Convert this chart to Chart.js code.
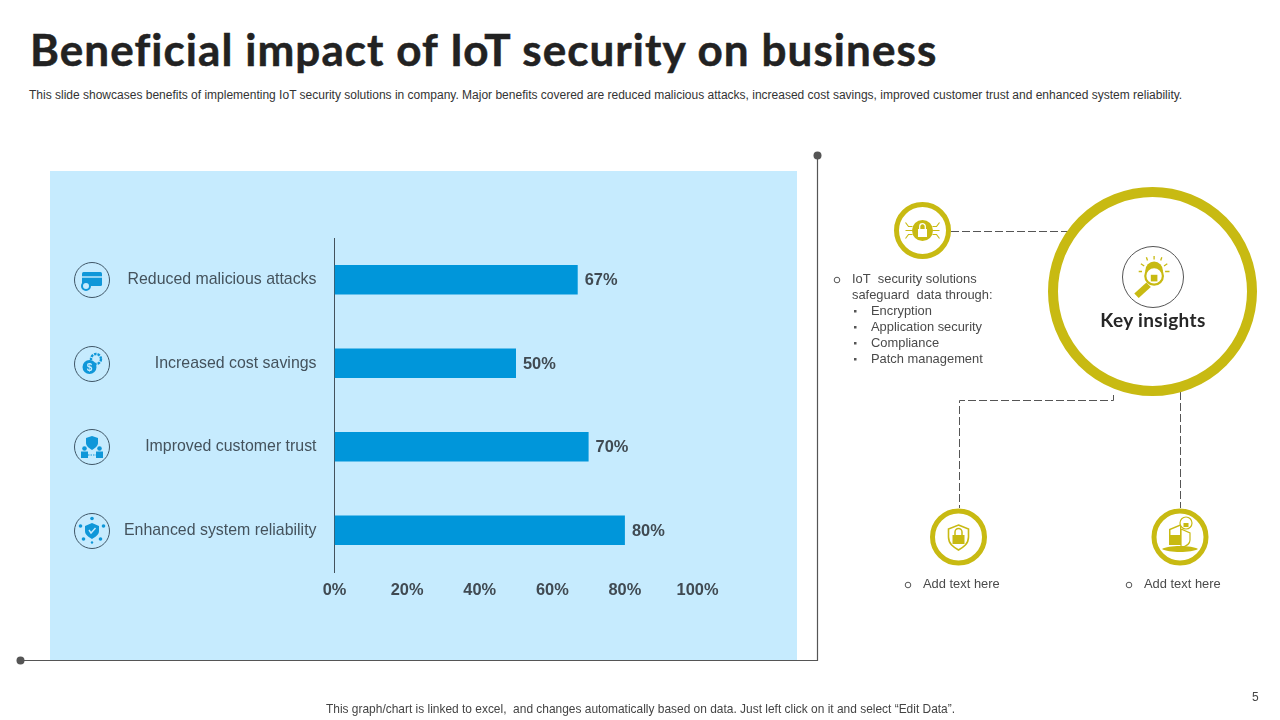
<!DOCTYPE html>
<html>
<head>
<meta charset="utf-8">
<title>Beneficial impact of IoT security on business</title>
<script src="https://cdn.jsdelivr.net/npm/chart.js@4/dist/chart.umd.js"></script>
<style>
html, body { margin: 0; padding: 0; background: #fff; }
#page { position: relative; width: 1280px; height: 720px; overflow: hidden; font-family: "Liberation Sans", Arial, sans-serif; color: #404040; }
#page div.t { position: absolute; white-space: nowrap; line-height: 16px; font-size: 12.9px; color: #4a4a4a; }
#title { position: absolute; left: 30px; top: 21px; font: 700 44px/56px "Lato", sans-serif; letter-spacing: 1.07px; -webkit-text-stroke: 0.5px #222; color: #222; white-space: nowrap; }
#sub { position: absolute; left: 29px; top: 88px; font-size: 12px; line-height: 14px; color: #333; white-space: nowrap; }
#foot { position: absolute; left: 326px; top: 702px; font-size: 11.95px; line-height: 14px; color: #444; white-space: nowrap; }
#num { position: absolute; left: 1252px; top: 690px; font-size: 12px; line-height: 14px; color: #444; }
#key { position: absolute; left: 1053px; width: 200px; top: 308px; text-align: center; font: 700 19px/24px "Lato", sans-serif; letter-spacing: 0.35px; color: #262626; }
#panel { position: absolute; left: 50px; top: 171px; width: 747px; height: 489px; background: #c6ebfe; }
#chart { position: absolute; left: 50px; top: 171px; }
svg { position: absolute; left: 0; top: 0; }
</style>
</head>
<body>
<div id="page">
  <div id="title">Beneficial impact of IoT security on business</div>
  <div id="sub">This slide showcases benefits of implementing IoT security solutions in company. Major benefits covered are reduced malicious attacks, increased cost savings, improved customer trust and enhanced system reliability.</div>
  <div id="panel"></div>
  <canvas id="chart" width="747" height="489"></canvas>

  <svg width="1280" height="720" xmlns="http://www.w3.org/2000/svg">
    <!-- frame -->
    <path d="M20.5 660.5H817.5V155.5" fill="none" stroke="#555" stroke-width="1.2"/>
    <circle cx="20.5" cy="660.5" r="4" fill="#555"/>
    <circle cx="817.5" cy="155.5" r="4" fill="#555"/>

    <!-- dashed links -->
    <g fill="none" stroke="#555" stroke-width="1" stroke-dasharray="8 3">
      <path d="M951 231.5H1068"/>
      <path d="M1113.5 395V400.5H959.5V508"/>
      <path d="M1180.5 392V508"/>
    </g>

    <!-- yellow rings -->
    <g fill="#fff" stroke="#c8ba12">
      <circle cx="1152.5" cy="291.5" r="99.5" stroke-width="10"/>
      <circle cx="922.5" cy="230.5" r="26" stroke-width="5"/>
      <circle cx="958.5" cy="537" r="26" stroke-width="5"/>
      <circle cx="1180" cy="537" r="26" stroke-width="5"/>
    </g>
    <circle cx="1153" cy="277" r="30.5" fill="#fff" stroke="#555" stroke-width="1"/>

    <!-- bulb and magnifier -->
    <g transform="translate(1153,277) scale(1.1)" fill="#c8ba12" stroke="none">
      <circle cx="1" cy="-6" r="8"/>
      <circle cx="1" cy="-1" r="8" fill="#fff" stroke="#c8ba12" stroke-width="2"/>
      <rect x="-2" y="-2" width="6" height="6" fill="#c8ba12"/>
      <path d="M-6 5L-17 15L-13 19L-2 9Z"/>
      <path d="M-11 -12L-8 -10M-13 -5H-10M13 -12L10 -10M15 -5H11M1 -19V-16M-6 -18L-5 -15M8 -18L7 -15" stroke="#c8ba12" stroke-width="1.2" fill="none"/>
    </g>

    <!-- chip lock -->
    <g transform="translate(922.5,230.5)" fill="#c8ba12">
      <circle r="10.5"/>
      <rect x="-4.5" y="-1.5" width="9" height="8" fill="#fff"/>
      <path d="M-2.8 -1.5V-4a2.8 2.8 0 0 1 5.6 0V-1.5" fill="none" stroke="#fff" stroke-width="1.3"/>
      <path d="M-10 -4H-14L-17 -8M-10 0H-17M-10 4H-14L-17 8M10 -4H14L17 -8M10 0H17M10 4H14L17 8" fill="none" stroke="#c8ba12" stroke-width="1.1"/>
    </g>

    <!-- shield lock -->
    <g transform="translate(958.5,537)">
      <path d="M0 -12L10 -8V0C10 7 5 10 0 13C-5 10 -10 7 -10 0V-8Z" fill="#fff" stroke="#c8ba12" stroke-width="1.6"/>
      <rect x="-6" y="-2" width="12" height="9" fill="#c8ba12"/>
      <path d="M-3.5 -2V-5a3.5 3.5 0 0 1 7 0V-2" fill="none" stroke="#c8ba12" stroke-width="1.5"/>
    </g>

    <!-- shield with padlock -->
    <g transform="translate(1180,537)">
      <path d="M-11 -8L1 -13V8H-11Z" fill="#c8ba12"/>
      <path d="M-9.5 -7L0 -11V-2H-9.5Z" fill="#fff"/>
      <path d="M1 -8L10 -4V3C10 8 5 9 1 11Z" fill="#fff" stroke="#c8ba12" stroke-width="1.2"/>
      <path d="M-18 12C-12 8 12 8 18 12C12 16 -12 16 -18 12Z" fill="#c8ba12"/>
      <circle cx="6" cy="-14" r="6" fill="#fff" stroke="#c8ba12" stroke-width="1.2"/>
      <rect x="3.5" y="-14" width="5" height="4" fill="#c8ba12"/>
    </g>

    <!-- left icon badges -->
    <g fill="none" stroke="#3f5666" stroke-width="1">
      <circle cx="92" cy="280" r="17.5"/>
      <circle cx="92" cy="364" r="17.5"/>
      <circle cx="92" cy="447" r="17.5"/>
      <circle cx="92" cy="531" r="17.5"/>
    </g>
    <g transform="translate(92,280)" fill="#0f97d9">
      <rect x="-10" y="-8" width="20" height="14" rx="1.5"/>
      <path d="M-10 -3H10" stroke="#c6ebfe" stroke-width="1.4"/>
      <circle cx="-6" cy="6" r="4" fill="#c6ebfe" stroke="#0f97d9" stroke-width="2"/>
    </g>
    <g transform="translate(92,364)" fill="#0f97d9">
      <circle cx="-2.5" cy="3" r="7"/>
      <circle cx="4" cy="-5" r="5" fill="none" stroke="#0f97d9" stroke-width="2.4" stroke-dasharray="2.5 1"/>
      <text x="-2.5" y="7" font-size="10" font-weight="700" text-anchor="middle" fill="#c6ebfe">$</text>
    </g>
    <g transform="translate(92,447)" fill="#0f97d9">
      <path d="M0 -11L6 -9V-4C6 -1 3 1 0 3C-3 1 -6 -1 -6 -4V-9Z"/>
      <circle cx="-7.5" cy="1.5" r="2.3"/><circle cx="7.5" cy="1.5" r="2.3"/>
      <rect x="-11" y="4.5" width="7" height="6.5"/><rect x="4" y="4.5" width="7" height="6.5"/>
      <path d="M-4 8H4" stroke="#0f97d9" stroke-width="1" stroke-dasharray="1.5 1"/>
    </g>
    <g transform="translate(92,531)" fill="#0f97d9">
      <path d="M0 -8L7 -5V0C7 4 3 6 0 8C-3 6 -7 4 -7 0V-5Z"/>
      <path d="M-3 -1L-1 2L3.5 -3" fill="none" stroke="#c6ebfe" stroke-width="1.4"/>
      <circle cx="0" cy="-12.5" r="1.8"/><circle cx="-11.5" cy="-5" r="1.8"/><circle cx="11.5" cy="-5" r="1.8"/>
      <circle cx="-8.5" cy="8" r="1.8"/><circle cx="8.5" cy="8" r="1.8"/><circle cx="0" cy="11.5" r="1.2"/>
    </g>

    <!-- list bullets -->
    <g fill="none" stroke="#555" stroke-width="1">
      <circle cx="837" cy="280" r="2.8"/>
      <circle cx="908" cy="585" r="2.8"/>
      <circle cx="1129" cy="585" r="2.8"/>
    </g>
    <g fill="#555">
      <rect x="854" y="310" width="2.5" height="2.5"/>
      <rect x="854" y="326" width="2.5" height="2.5"/>
      <rect x="854" y="342" width="2.5" height="2.5"/>
      <rect x="854" y="358" width="2.5" height="2.5"/>
    </g>
  </svg>

  <div class="t" style="left:852px;top:271px">IoT&nbsp; security solutions</div>
  <div class="t" style="left:852px;top:287px">safeguard&nbsp; data through:</div>
  <div class="t" style="left:871px;top:303px">Encryption</div>
  <div class="t" style="left:871px;top:319px">Application security</div>
  <div class="t" style="left:871px;top:335px">Compliance</div>
  <div class="t" style="left:871px;top:351px">Patch management</div>
  <div class="t" style="left:923px;top:576px">Add text here</div>
  <div class="t" style="left:1144px;top:576px">Add text here</div>
  <div id="key">Key insights</div>
  <div id="foot">This graph/chart is linked to excel,&nbsp; and changes automatically based on data. Just left click on it and select “Edit Data”.</div>
  <div id="num">5</div>
</div>

<script>
const categories = ["Reduced malicious attacks", "Increased cost savings", "Improved customer trust", "Enhanced system reliability"];
const benefitValues = [67, 50, 70, 80];
const tickLabels = ["0%", "20%", "40%", "60%", "80%", "100%"];

// Schreibt die Prozentwerte rechts neben die Balken.
const valueLabels = {
    id: "valueLabels",
    afterDatasetsDraw(chart) {
        const ctx = chart.ctx;
        ctx.save();
        ctx.font = "700 16.4px 'Liberation Sans'";
        ctx.fillStyle = "#404a52";
        ctx.textAlign = "left";
        ctx.textBaseline = "middle";
        chart.getDatasetMeta(0).data.forEach((bar, i) => {
            ctx.fillText(benefitValues[i] + "%", bar.x + 7, bar.y + 1);
        });
        ctx.restore();
    }
};

new Chart(document.getElementById("chart"), {
    type: "bar",
    data: {
        labels: categories,
        datasets: [{
            data: benefitValues,
            backgroundColor: "#0096da",
            categoryPercentage: 1,
            barPercentage: 0.354,
        }],
    },
    options: {
        indexAxis: "y",
        responsive: false,
        animation: false,
        devicePixelRatio: 1,
        layout: { padding: { left: 0, top: 67, right: 99.5, bottom: 0 } },
        plugins: { legend: { display: false }, tooltip: { enabled: false } },
        scales: {
            x: {
                min: 0,
                max: 100,
                grid: { display: false, drawTicks: false },
                border: { display: false },
                afterFit: (scale) => { scale.height = 88; },
                ticks: {
                    stepSize: 20,
                    padding: 9,
                    maxRotation: 0,
                    color: "#404a52",
                    font: { family: "Liberation Sans", size: 16.4, weight: "700" },
                    callback: (value, i) => tickLabels[i],
                },
            },
            y: {
                grid: { display: false, drawTicks: false },
                border: { display: true, color: "#44525c", width: 1 },
                afterFit: (scale) => { scale.width = 284.5; },
                ticks: {
                    padding: 18,
                    color: "#44525c",
                    font: { family: "Liberation Sans", size: 15.9 },
                },
            },
        },
    },
    plugins: [valueLabels],
});
</script>
</body>
</html>
